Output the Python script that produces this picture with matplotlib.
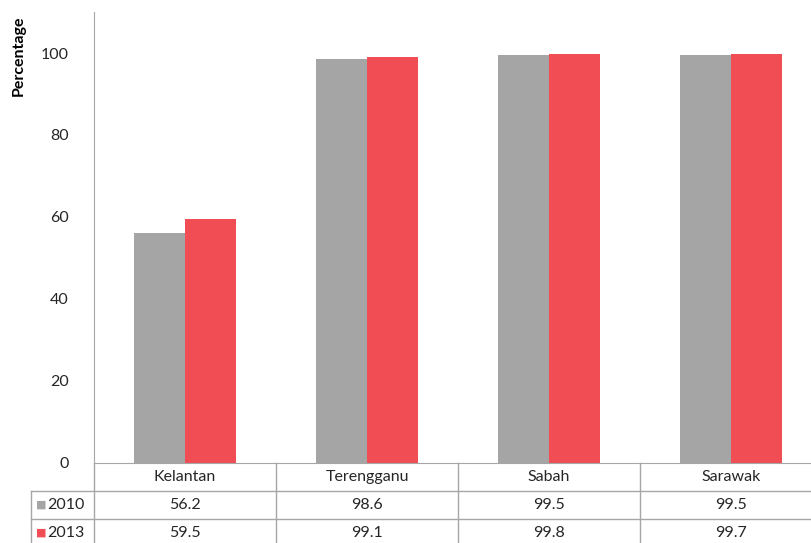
import numpy as np
import matplotlib.pyplot as plt
import matplotlib.transforms as mtransforms

# datos del grafico
estados = ['Kelantan', 'Terengganu', 'Sabah', 'Sarawak']
anios = ['2010', '2013']
valores_2010 = [56.2, 98.6, 99.5, 99.5]
valores_2013 = [59.5, 99.1, 99.8, 99.7]
colores = ['#A5A5A5', '#F04E54']
yticks = [0, 20, 40, 60, 80, 100]

plt.rcParams['font.family'] = ['Lato', 'DejaVu Sans']
texto = '#262626'
linea = '#A6A6A6'

fig = plt.figure(figsize=(8.11, 5.43), dpi=100)
ax = fig.add_axes([94 / 811, 80 / 543, 728 / 811, 451 / 543])

x = np.arange(len(estados))
ancho = 0.28
ax.bar(x - ancho / 2, valores_2010, ancho, color=colores[0])
ax.bar(x + ancho / 2, valores_2013, ancho, color=colores[1])

ax.set_xlim(-0.5, len(estados) - 0.5)
ax.set_ylim(0, 110)
ax.set_yticks(yticks)
ax.set_yticklabels([str(t) for t in yticks], fontsize=11.5, color=texto)
ax.tick_params(axis='y', length=0, pad=18)
ax.set_xticks([])
for lado in ['top', 'right']:
    ax.spines[lado].set_visible(False)
ax.spines['left'].set_color(linea)
ax.spines['bottom'].set_color(linea)

fig.text(19 / 811, 1 - 56 / 543, 'Percentage', rotation=90, ha='center', va='center',
         fontsize=11.5, fontweight='bold', color='black')

# tabla de datos debajo del eje
trans = mtransforms.blended_transform_factory(ax.transData, ax.transAxes)
px = 1 / 451
filas = [-28 * px, -56 * px, -84 * px]
kw = dict(transform=trans, clip_on=False, color=linea, lw=1)
x_izq = -0.5 - 63 / 182
for xb in np.arange(-0.5, len(estados)):
    ax.plot([xb, xb], [0, filas[2]], **kw)
ax.plot([x_izq, x_izq], [filas[0], filas[2]], **kw)
for yf in filas:
    ax.plot([x_izq, len(estados) - 0.5], [yf, yf], **kw)

for i, nombre in enumerate(estados):
    ax.text(i, -14 * px, nombre, transform=trans, ha='center', va='center', fontsize=11.5, color=texto)
    ax.text(i, -42 * px, f'{valores_2010[i]:.1f}', transform=trans, ha='center', va='center',
            fontsize=11.5, color=texto)
    ax.text(i, -70 * px, f'{valores_2013[i]:.1f}', transform=trans, ha='center', va='center',
            fontsize=11.5, color=texto)

for j, (anio, col) in enumerate(zip(anios, colores)):
    yc = -(42 + 28 * j) * px
    ax.text(x_izq + 5 / 182, yc, '\u25A0', transform=trans, ha='left', va='center',
            fontsize=8, color=col, family='DejaVu Sans')
    ax.text(x_izq + 16 / 182, yc, anio, transform=trans, ha='left', va='center',
            fontsize=11.5, color=texto)

fig.savefig('out.png', dpi=100)
